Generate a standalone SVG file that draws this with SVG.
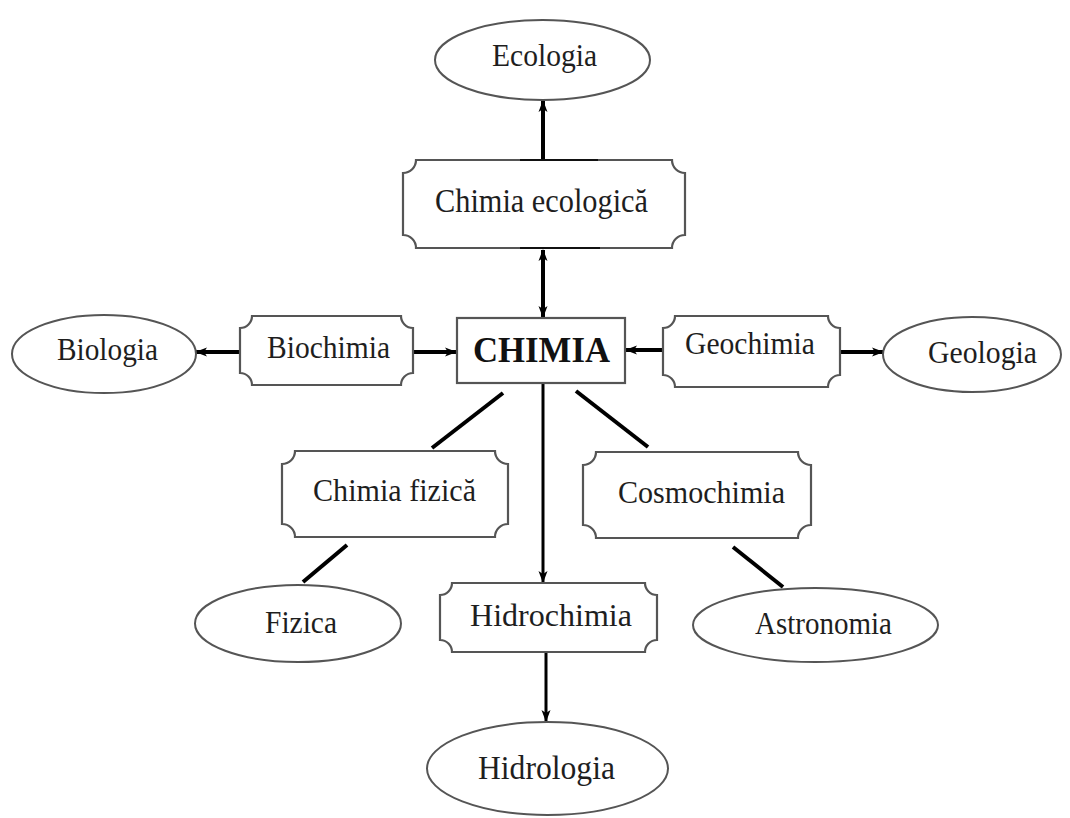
<svg xmlns="http://www.w3.org/2000/svg" width="1070" height="818" viewBox="0 0 1070 818">
<defs>
<marker id="ah" markerUnits="userSpaceOnUse" markerWidth="12" markerHeight="12" viewBox="0 0 12 12" refX="11" refY="6" orient="auto-start-reverse">
<path d="M0,1.5 L12,6 L0,10.5 L3,6 Z" fill="#000"/>
</marker>
</defs>
<style>
.box{fill:#fff;stroke:#555;stroke-width:2.2}
.ell{fill:#fff;stroke:#555;stroke-width:2}
.t{font-family:"Liberation Serif","Times New Roman",serif;font-size:32px;fill:#1e1e1e;text-anchor:middle}
.b{font-weight:bold;font-size:35px;fill:#111}
.c{stroke:#000;stroke-width:4;fill:none}
.c3{stroke:#000;stroke-width:3;fill:none}
</style>
<rect width="1070" height="818" fill="#fff"/>
<g id="connectors">
<line class="c" x1="543" y1="160" x2="543" y2="101" marker-end="url(#ah)"/>
<line class="c" x1="543" y1="250" x2="543" y2="317" marker-start="url(#ah)" marker-end="url(#ah)"/>
<line class="c" x1="240" y1="352" x2="196" y2="352" marker-end="url(#ah)"/>
<line class="c" x1="413" y1="352" x2="456" y2="352" marker-end="url(#ah)"/>
<line class="c" x1="663" y1="350" x2="626" y2="350" marker-end="url(#ah)"/>
<line class="c" x1="840" y1="352" x2="883" y2="352" marker-end="url(#ah)"/>
<line class="c3" x1="543" y1="383" x2="543" y2="582" marker-end="url(#ah)"/>
<line class="c3" x1="546" y1="652" x2="546" y2="721" marker-end="url(#ah)"/>
<line class="c" x1="503" y1="393" x2="432" y2="448"/>
<line class="c" x1="576" y1="391" x2="648" y2="447"/>
<line class="c" x1="347" y1="545" x2="303" y2="582"/>
<line class="c" x1="733" y1="547" x2="783" y2="587"/>
</g>
<g id="ecologia">
<ellipse class="ell" cx="542.5" cy="60" rx="107.5" ry="40"/>
<text class="t" x="544.5" y="66" textLength="105" lengthAdjust="spacingAndGlyphs">Ecologia</text>
</g>
<g id="chimia-ecologica">
<path class="box" d="M416,160 H672 A13,13 0 0 0 685,173 V235 A13,13 0 0 0 672,248 H416 A13,13 0 0 0 403,235 V173 A13,13 0 0 0 416,160 Z"/>
<line x1="520" y1="160" x2="598" y2="160" stroke="#111" stroke-width="2.2"/>
<line x1="520" y1="248" x2="600" y2="248" stroke="#111" stroke-width="2.2"/>
<text class="t" x="541.5" y="212" textLength="213" lengthAdjust="spacingAndGlyphs" style="font-size:34px">Chimia ecologică</text>
</g>
<g id="biologia">
<ellipse class="ell" cx="104" cy="354" rx="92" ry="39"/>
<text class="t" x="107.5" y="360" textLength="101" lengthAdjust="spacingAndGlyphs">Biologia</text>
</g>
<g id="biochimia">
<path class="box" d="M252,316 H401 A12,12 0 0 0 413,328 V373 A12,12 0 0 0 401,385 H252 A12,12 0 0 0 240,373 V328 A12,12 0 0 0 252,316 Z"/>
<text class="t" x="328.5" y="358" textLength="123" lengthAdjust="spacingAndGlyphs">Biochimia</text>
</g>
<g id="chimia">
<rect class="box" x="457" y="318" width="168" height="65"/>
<text class="t b" x="541.5" y="362" textLength="137" lengthAdjust="spacingAndGlyphs">CHIMIA</text>
</g>
<g id="geochimia">
<path class="box" d="M675,316 H828 A12,12 0 0 0 840,328 V375 A12,12 0 0 0 828,387 H675 A12,12 0 0 0 663,375 V328 A12,12 0 0 0 675,316 Z"/>
<text class="t" x="750" y="354" textLength="130" lengthAdjust="spacingAndGlyphs">Geochimia</text>
</g>
<g id="geologia">
<ellipse class="ell" cx="972" cy="354.5" rx="89" ry="37.5"/>
<text class="t" x="982.5" y="363" textLength="109" lengthAdjust="spacingAndGlyphs">Geologia</text>
</g>
<g id="chimia-fizica">
<path class="box" d="M295,451 H495 A13,13 0 0 0 508,464 V524 A13,13 0 0 0 495,537 H295 A13,13 0 0 0 282,524 V464 A13,13 0 0 0 295,451 Z"/>
<text class="t" x="394.5" y="501" textLength="163" lengthAdjust="spacingAndGlyphs">Chimia fizică</text>
</g>
<g id="cosmochimia">
<path class="box" d="M596,452 H798 A13,13 0 0 0 811,465 V525 A13,13 0 0 0 798,538 H596 A13,13 0 0 0 583,525 V465 A13,13 0 0 0 596,452 Z"/>
<text class="t" x="701.5" y="503" textLength="167" lengthAdjust="spacingAndGlyphs">Cosmochimia</text>
</g>
<g id="fizica">
<ellipse class="ell" cx="298" cy="623.5" rx="103" ry="38.5"/>
<text class="t" x="301" y="633" textLength="72" lengthAdjust="spacingAndGlyphs">Fizica</text>
</g>
<g id="hidrochimia">
<path class="box" d="M452,583 H645 A12,12 0 0 0 657,595 V640 A12,12 0 0 0 645,652 H452 A12,12 0 0 0 440,640 V595 A12,12 0 0 0 452,583 Z"/>
<text class="t" x="551" y="626" textLength="162" lengthAdjust="spacingAndGlyphs">Hidrochimia</text>
</g>
<g id="astronomia">
<ellipse class="ell" cx="815.5" cy="625" rx="122.5" ry="37"/>
<text class="t" x="823.5" y="634" textLength="137" lengthAdjust="spacingAndGlyphs">Astronomia</text>
</g>
<g id="hidrologia">
<ellipse class="ell" cx="547.5" cy="768.5" rx="120.5" ry="46.5"/>
<text class="t" x="546.5" y="779" textLength="137" lengthAdjust="spacingAndGlyphs" style="font-size:34px">Hidrologia</text>
</g>
</svg>
